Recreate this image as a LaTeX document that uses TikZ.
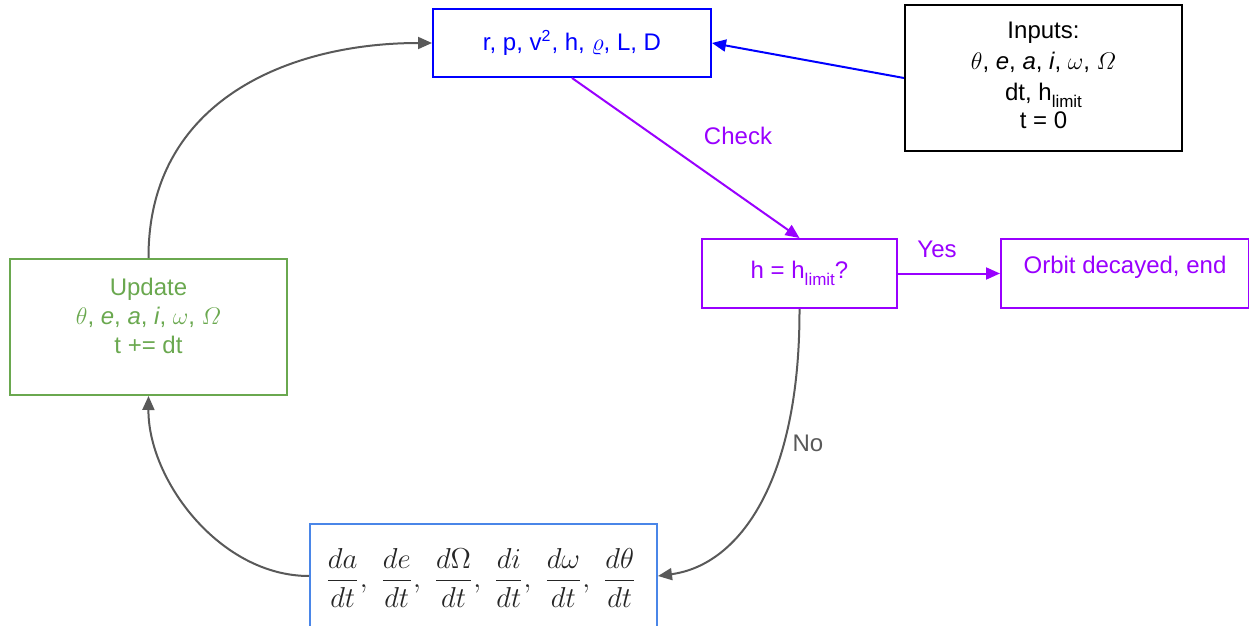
\documentclass[tikz,border=0pt]{standalone}
\usepackage{amsmath}
\usepackage{fontspec}
\setmainfont{Liberation Sans}
\usetikzlibrary{arrows.meta}
\definecolor{cblue}{HTML}{0000FF}
\definecolor{cpurple}{HTML}{9900FF}
\definecolor{cgreen}{HTML}{6AA84F}
\definecolor{clight}{HTML}{4A86E8}
\definecolor{cgray}{HTML}{595959}
% lowered subscript, as in h_limit
\newcommand{\lowsub}[1]{\raisebox{-0.3em}{\fontsize{8.5}{10}\selectfont #1}}
\begin{document}
\begin{tikzpicture}[x=0.5pt,y=-0.5pt,
  box/.style={draw, line width=1pt, inner sep=0pt, align=center,
    font=\fontsize{12}{14}\selectfont},
  lbl/.style={inner sep=0pt, font=\fontsize{12}{14}\selectfont},
  arr/.style={line width=1pt, -{Triangle[length=7pt,width=6pt]}}]
\useasboundingbox (0,0) rectangle (1249,626);

% state box
\node[box, draw=cblue, text=cblue, minimum width=139pt, minimum height=34pt]
  (state) at (572,43) {r, p, v\textsuperscript{2}, h, $\varrho$, L, D};

% inputs box
\node[box, draw=black, minimum width=138.5pt, minimum height=73pt] (inputs) at (1043.5,78) {};
\node[lbl, align=center, font=\fontsize{12}{15.5}\selectfont] (intext) at (1043.5,75)
  {Inputs:\\ $\theta$, \textit{e}, \textit{a}, \textit{i}, $\omega$, $\varOmega$\\
   dt, h\lowsub{limit}\\[-1.5pt] t = 0};

% update box
\node[box, draw=cgreen, minimum width=138.5pt, minimum height=68pt]
  (update) at (148.5,327) {};
\node[lbl, text=cgreen, align=center, font=\fontsize{12}{14.5}\selectfont]
  (updtext) at (148.5,316)
  {Update\\ $\theta$, \textit{e}, \textit{a}, \textit{i}, $\omega$, $\varOmega$\\ t += dt};

% derivatives box
\node[box, draw=clight, minimum width=173.5pt, minimum height=52pt]
  (deriv) at (483.5,576) {};
\node[lbl, text=black!85, font=\fontsize{15}{18}\selectfont]
  (dertext) at (481,578)
  {$\dfrac{da}{dt},\;\dfrac{de}{dt},\;\dfrac{d\Omega}{dt},\;\dfrac{di}{dt},\;\dfrac{d\omega}{dt},\;\dfrac{d\theta}{dt}$};

% check box
\node[box, draw=cpurple, text=cpurple, minimum width=97.5pt, minimum height=34.5pt]
  (hq) at (799.5,273.5) {h = h\lowsub{limit}?};

% end box
\node[box, draw=cpurple, text=cpurple, minimum width=124pt, minimum height=34.5pt]
  (orbit) at (1125,273.5) {};
\node[lbl, text=cpurple] (orbtext) at (1125,267) {Orbit decayed, end};

% connectors
\draw[arr, cblue] (inputs.west) -- (state.east);
\draw[arr, cpurple] (state.south) -- (hq.north);
\draw[arr, cpurple] (hq.east) -- (orbit.west);
\draw[arr, cgray] (hq.south) .. controls (800,480) and (740,565) .. (deriv.east);
\draw[arr, cgray] (deriv.west) .. controls (220,576) and (148,480) .. (update.south);
\draw[arr, cgray] (update.north) .. controls (148,100) and (290,43) .. (state.west);

% connector labels
\node[lbl, text=cpurple] (check) at (738,136) {Check};
\node[lbl, text=cpurple] (yes) at (937,249) {Yes};
\node[lbl, text=cgray] (no) at (808,443) {No};
\end{tikzpicture}
\end{document}
